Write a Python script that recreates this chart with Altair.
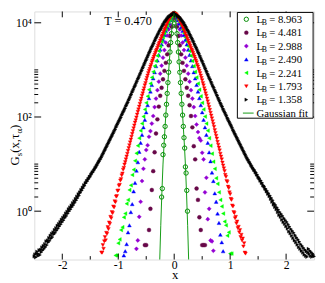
import numpy as np
import pandas as pd
import altair as alt

# ---------------- data ----------------
SERIES = ["8.963", "4.481", "2.988", "2.490", "2.241", "1.793", "1.358"]
COLORS = ["#008b00", "#670748", "#9400d3", "#0000ff", "#00ff00", "#ff0000", "#000000"]
SHAPES = ["circle", "circle", "diamond", "triangle-up", "triangle-left", "triangle-down", "triangle-right"]
FILLED = [False, True, True, True, True, True, True]
SIZES = [20, 16, 18, 15, 15, 14, 12]

# histogram bins: centre of first bin and bin width of each series
X0 = [-0.2375, -0.525, -0.675, -0.9, -1.05, -1.3, -2.5]
DX = [0.0125, 0.025, 0.025, 0.025, 0.025, 0.0125, 0.0125]

# log10 Gs(x, tau_alpha), bin by bin (None = empty bin)
LOG_8963 = [None, 0.30, 0.48, 1.20, 1.40, 1.58, 1.80, 2.04, 2.27, 2.50, 2.73, 2.95, 3.17, 3.38, 3.58, 3.77, 3.93, 4.06, 4.15, 4.20,
            4.15, 4.06, 3.93, 3.77, 3.58, 3.38, 3.17, 2.95, 2.73, 2.50, 2.27, 2.04, 1.80, 1.56, 1.34, 0.94, 0.81, 0.44, 0.00]
LOG_4481 = [-0.72, -0.72, None, -0.40, 0.05, 0.45, 0.85, 1.25, 1.65, 1.95, 2.22, 2.45, 2.62, 2.80, 2.98, 3.15, 3.33, 3.52, 3.72, 3.92, 4.10, 4.20,
            4.10, 3.92, 3.72, 3.52, 3.33, 3.15, 2.98, 2.80, 2.62, 2.45, 2.25, 2.02, 1.78, 1.38, 1.10, 0.48, 0.24, -0.13, -0.40, -0.72, -0.72, -0.72]
LOG_2988 = [-0.80, -0.62, -0.12, 0.20, 0.64, 0.90, 1.10, 1.30, 1.40, 1.58, 1.70, 1.86, 2.02, 2.21, 2.39, 2.57, 2.75, 2.92, 3.09, 3.26, 3.42, 3.58, 3.73, 3.86, 3.97, 4.07, 4.15, 4.20,
            4.15, 4.07, 3.97, 3.86, 3.73, 3.58, 3.42, 3.26, 3.09, 2.92, 2.75, 2.57, 2.39, 2.21, 2.02, 1.84, 1.68, 1.55, 1.50, 1.24, 1.10, 0.40, 0.71, -0.17, 0.05, -0.62, -0.64, -0.84]
LOG_2490 = [-0.94, -0.85, -0.70, -0.45, -0.30, -0.02, 0.15, 0.42, 0.60, 0.86, 1.04, 1.26, 1.45, 1.62, 1.78, 1.94, 2.10, 2.25, 2.40, 2.54, 2.68, 2.82, 2.95, 3.08, 3.20, 3.32, 3.43, 3.54, 3.64, 3.74, 3.83, 3.91, 3.99, 4.06, 4.12, 4.17, 4.20,
            4.17, 4.12, 4.06, 3.99, 3.91, 3.83, 3.74, 3.64, 3.54, 3.43, 3.32, 3.20, 3.08, 2.95, 2.82, 2.68, 2.54, 2.40, 2.25, 2.10, 1.94, 1.78, 1.62, 1.45, 1.25, 1.06, 0.82, 0.64, 0.38, 0.20, -0.05, -0.25, -0.50, -0.66, -0.85, None]
LOG_2241 = [-0.94, -0.94, -0.68, -0.60, -0.40, -0.34, -0.13, -0.05, 0.16, 0.24, 0.45, 0.55, 0.77, 0.88, 1.07, 1.23, 1.39, 1.55, 1.71, 1.86, 2.01, 2.16, 2.30, 2.44, 2.58, 2.71, 2.84, 2.96, 3.08, 3.19, 3.30, 3.40, 3.50, 3.60, 3.69, 3.78, 3.86, 3.94, 4.01, 4.07, 4.13, 4.17, 4.20,
            4.17, 4.13, 4.07, 4.01, 3.94, 3.86, 3.78, 3.69, 3.60, 3.50, 3.40, 3.30, 3.19, 3.08, 2.96, 2.84, 2.71, 2.58, 2.44, 2.30, 2.16, 2.01, 1.86, 1.71, 1.55, 1.39, 1.22, 1.05, 0.90, 0.70, 0.58, 0.40, 0.24, 0.10, -0.05, -0.22, -0.30, -0.52, -0.45, -0.90, -0.90, None]
LOG_1793 = [-0.88, -0.88, -0.72, -0.80, -0.64, -0.55, -0.62, -0.46, -0.48, -0.34, -0.38, -0.24, -0.27, -0.12, -0.15, -0.02, -0.04,
            0.10, 0.08, 0.21, 0.19, 0.31, 0.32, 0.43, 0.44, 0.54, 0.56, 0.65, 0.68, 0.76, 0.80, 0.88, 0.92,
            0.99, 1.04, 1.10, 1.16, 1.22, 1.28, 1.34, 1.40, 1.46, 1.52, 1.58, 1.64, 1.70, 1.76, 1.82, 1.88,
            1.93, 1.99, 2.05, 2.11, 2.16, 2.22, 2.28, 2.34, 2.39, 2.45, 2.50, 2.56, 2.61, 2.67, 2.72, 2.78,
            2.83, 2.88, 2.93, 2.98, 3.02, 3.07, 3.11, 3.16, 3.20, 3.24, 3.28, 3.32, 3.36, 3.40, 3.43, 3.47,
            3.51, 3.55, 3.58, 3.62, 3.66, 3.70, 3.73, 3.77, 3.81, 3.85, 3.88, 3.92, 3.95, 3.99, 4.02, 4.05,
            4.08, 4.10, 4.13, 4.15, 4.17, 4.18, 4.19, 4.20,
            4.19, 4.18, 4.17, 4.15, 4.13, 4.10, 4.08, 4.05, 4.02, 3.99, 3.95, 3.92, 3.88, 3.85, 3.81, 3.77,
            3.73, 3.70, 3.66, 3.62, 3.58, 3.55, 3.51, 3.47, 3.43, 3.40, 3.36, 3.32, 3.28, 3.24, 3.20, 3.16,
            3.11, 3.07, 3.02, 2.98, 2.93, 2.88, 2.83, 2.78, 2.72, 2.67, 2.61, 2.56, 2.50, 2.45, 2.39, 2.33,
            2.27, 2.21, 2.15, 2.09, 2.03, 1.97, 1.91, 1.85, 1.79, 1.72, 1.66, 1.60, 1.54, 1.47, 1.41, 1.35,
            1.29, 1.22, 1.16, 1.10, 1.03, 0.97, 0.91, 0.85, 0.77, 0.73, 0.64, 0.62, 0.52, 0.49, 0.40, 0.36,
            0.26, 0.24, 0.12, 0.10, -0.02, -0.04, -0.15, -0.12, -0.26, -0.22, -0.36, -0.33, -0.45, -0.40, -0.55, -0.50,
            -0.62, -0.58, -0.75, -0.68, -0.88, -0.90, None, None]
LOG_1358 = [-0.96, -0.92, -0.98, -0.90, -0.86, -0.95, -0.91, -0.83, -0.93, -0.82, -0.87, -0.77, -0.83, -0.74, -0.80, -0.70,
            -0.76, -0.64, -0.72, -0.62, -0.66, -0.57, -0.63, -0.52, -0.58, -0.48, -0.55, -0.45, -0.49, -0.40, -0.46, -0.36,
            -0.41, -0.31, -0.37, -0.27, -0.32, -0.23, -0.28, -0.18, -0.23, -0.14, -0.19, -0.10, -0.14, -0.05, -0.10, -0.01,
            -0.05, 0.04, 0.00, 0.08, 0.04, 0.12, 0.09, 0.17, 0.13, 0.21, 0.18, 0.26, 0.23, 0.31, 0.28, 0.36,
            0.33, 0.40, 0.39, 0.45, 0.44, 0.50, 0.49, 0.55, 0.54, 0.59, 0.60, 0.64, 0.64, 0.68, 0.69, 0.73,
            0.73, 0.77, 0.79, 0.82, 0.83, 0.86, 0.88, 0.91, 0.93,
            0.96, 0.98, 1.01, 1.04, 1.06, 1.09, 1.11, 1.14, 1.17, 1.20, 1.23, 1.26, 1.29, 1.32, 1.35, 1.38,
            1.41, 1.44, 1.47, 1.50, 1.53, 1.56, 1.59, 1.62, 1.65, 1.68, 1.71, 1.74, 1.78, 1.81, 1.84, 1.87,
            1.90, 1.93, 1.96, 1.99, 2.03, 2.06, 2.09, 2.12, 2.15, 2.18, 2.22, 2.25, 2.28, 2.31, 2.35, 2.38,
            2.41, 2.45, 2.48, 2.52, 2.55, 2.58, 2.62, 2.65, 2.68, 2.72, 2.75, 2.79, 2.82, 2.85, 2.89, 2.92,
            2.96, 2.99, 3.03, 3.06, 3.10, 3.13, 3.17, 3.20, 3.23, 3.27, 3.30, 3.34, 3.37, 3.40, 3.44, 3.47,
            3.50, 3.53, 3.56, 3.60, 3.63, 3.66, 3.69, 3.72, 3.75, 3.78, 3.81, 3.84, 3.86, 3.89, 3.92, 3.95,
            3.97, 4.00, 4.02, 4.04, 4.06, 4.08, 4.10, 4.12, 4.13, 4.14, 4.15, 4.16, 4.17, 4.18, 4.19, 4.20,
            4.19, 4.18, 4.17, 4.16, 4.15, 4.14, 4.13, 4.12, 4.10, 4.08, 4.06, 4.04, 4.02, 4.00, 3.97, 3.95,
            3.92, 3.89, 3.86, 3.84, 3.81, 3.78, 3.75, 3.72, 3.69, 3.66, 3.63, 3.60, 3.56, 3.53, 3.50, 3.47,
            3.44, 3.40, 3.37, 3.34, 3.30, 3.27, 3.23, 3.20, 3.17, 3.13, 3.10, 3.06, 3.03, 2.99, 2.96, 2.92,
            2.89, 2.85, 2.82, 2.79, 2.75, 2.72, 2.68, 2.65, 2.62, 2.58, 2.55, 2.52, 2.48, 2.45, 2.41, 2.38,
            2.35, 2.31, 2.28, 2.25, 2.22, 2.18, 2.15, 2.12, 2.09, 2.06, 2.03, 1.99, 1.96, 1.93, 1.90, 1.87,
            1.84, 1.81, 1.78, 1.74, 1.71, 1.68, 1.65, 1.62, 1.59, 1.56, 1.53, 1.50, 1.47, 1.44, 1.41, 1.38,
            1.35, 1.32, 1.29, 1.26, 1.23, 1.20, 1.17, 1.14, 1.11, 1.09, 1.06, 1.04, 1.01, 0.98, 0.96, 0.93,
            0.91, 0.88, 0.87, 0.83, 0.82, 0.78, 0.77, 0.73, 0.71, 0.69, 0.65, 0.65, 0.60, 0.60, 0.55, 0.54,
            0.52, 0.48, 0.47, 0.42, 0.43, 0.37, 0.38, 0.32, 0.33, 0.26, 0.28, 0.20, 0.23, 0.14, 0.17, 0.09,
            0.13, 0.04, 0.08, -0.02, 0.03, -0.08, -0.02, -0.12, -0.06, -0.18, -0.10, -0.23, -0.15, -0.27, -0.19, -0.32,
            -0.23, -0.37, -0.28, -0.43, -0.33, -0.47, -0.38, -0.52, -0.42, -0.57, -0.46, -0.62, -0.51, -0.66, -0.56, -0.71,
            -0.60, -0.76, -0.65, -0.80, -0.70, -0.84, -0.74, -0.88, -0.78, -0.92, -0.82, -0.95, -0.85, -0.97, -0.88, -0.80,
            -0.91, -0.84, -0.95, -0.87, -0.97, -0.90, -0.93, -0.96]
LOG_G = [LOG_8963, LOG_4481, LOG_2988, LOG_2490, LOG_2241, LOG_1793, LOG_1358]

# Gaussian fit curve (log10 values)
FIT_X0, FIT_DX = -0.26, 0.02
LOG_FIT = [-1.10, -0.30, 0.40, 1.00, 1.45, 1.85, 2.22, 2.60, 2.95, 3.30, 3.62, 3.90, 4.10, 4.20,
           4.10, 3.90, 3.62, 3.30, 2.95, 2.60, 2.22, 1.85, 1.45, 1.00, 0.40, -0.30, -1.10]
FIT_COLOR = "#119a11"
FIT_LABEL = "Gaussian fit"
TEMP_TEXT = "T = 0.470"

X_MAJOR = [-2, -1, 0, 1, 2]
X_MINOR = [-1.5, -0.5, 0.5, 1.5]
Y_MAJOR = [1, 100, 10000]
Y_MINOR = [2, 3, 4, 5, 6, 7, 8, 9, 10, 200, 300, 400, 500, 600, 700, 800, 900, 1000]

# ---------------- layout ----------------
W, H = 287, 254.5
FONT = "Liberation Serif"
OX, OY = 35, 8  # plot origin on the page

rows = []
for k, vals in enumerate(LOG_G):
    for i, v in enumerate(vals):
        if v is None:
            continue
        rows.append(dict(x=round(X0[k] + i * DX[k], 4), y=10 ** v, k=k,
                         shape=SHAPES[k],
                         fill=COLORS[k] if FILLED[k] else "transparent",
                         stroke=COLORS[k], size=SIZES[k],
                         sw=0.4 if FILLED[k] else 1.0))
pts = pd.DataFrame(rows)
fitdf = pd.DataFrame({"x": [round(FIT_X0 + i * FIT_DX, 4) for i in range(len(LOG_FIT))],
                      "y": [10 ** v for v in LOG_FIT]})

XS = alt.Scale(domain=[-2.5, 2.5], nice=False, zero=False)
YS = alt.Scale(type="log", domain=[0.094, 17400], nice=False)
XA = alt.Axis(values=X_MAJOR, labelExpr="'' + datum.value", ticks=False, domain=False, grid=False,
              labelPadding=0, labelFont=FONT, labelFontSize=12, labelColor="black", title=None,
              labelFlush=False, labelOverlap=False)
YA = alt.Axis(values=Y_MAJOR,
              labelExpr="datum.value == 1 ? '10\u2070' : (datum.value == 100 ? '10\u00b2' : '10\u2074')",
              ticks=False, domain=False, grid=False, labelPadding=3, labelFont=FONT, labelFontSize=12,
              labelColor="black", title=None, labelFlush=False, labelOverlap=False)

points = alt.Chart(pts).mark_point(opacity=1, filled=True).encode(
    x=alt.X("x:Q", scale=XS, axis=XA),
    y=alt.Y("y:Q", scale=YS, axis=YA),
    shape=alt.Shape("shape:N", scale=None),
    fill=alt.Fill("fill:N", scale=None),
    stroke=alt.Stroke("stroke:N", scale=None),
    size=alt.Size("size:Q", scale=None),
    strokeWidth=alt.StrokeWidth("sw:Q", scale=None),
)

fit = alt.Chart(fitdf).mark_line(color=FIT_COLOR, strokeWidth=1, clip=True).encode(
    x=alt.X("x:Q", scale=XS, axis=XA),
    y=alt.Y("y:Q", scale=YS, axis=YA),
)

# inward ticks on all four sides
xt = []
for t in X_MAJOR:
    xt += [dict(x=t, p1=H, p2=H - 6), dict(x=t, p1=0, p2=6)]
for t in X_MINOR:
    xt += [dict(x=t, p1=H, p2=H - 3.5), dict(x=t, p1=0, p2=3.5)]
xticks = alt.Chart(pd.DataFrame(xt)).mark_rule(color="black", strokeWidth=1).encode(
    x=alt.X("x:Q", scale=XS, axis=XA),
    y=alt.Y("p1:Q", scale=None, axis=None),
    y2="p2:Q",
)
yt = []
for t in Y_MAJOR:
    yt += [dict(y=t, p1=0, p2=7), dict(y=t, p1=W, p2=W - 7)]
for t in Y_MINOR:
    yt += [dict(y=t, p1=0, p2=4), dict(y=t, p1=W, p2=W - 4)]
yticks = alt.Chart(pd.DataFrame(yt)).mark_rule(color="black", strokeWidth=1).encode(
    y=alt.Y("y:Q", scale=YS, axis=YA),
    x=alt.X("p1:Q", scale=None, axis=None),
    x2="p2:Q",
)

# legend
ROW0, ROWD = 16.0, 13.75
one = pd.DataFrame({"a": [0]})
box = alt.Chart(one).mark_rect(fill="white", stroke="black", strokeWidth=1).encode(
    x=alt.value(243.3 - OX), x2=alt.value(321 - OX),
    y=alt.value(9 - OY), y2=alt.value(117.5 - OY),
)
leg = pd.DataFrame([dict(px=252.5 - OX, py=ROW0 + ROWD * i - OY, shape=SHAPES[i],
                         fill=COLORS[i] if FILLED[i] else "transparent", stroke=COLORS[i],
                         size=SIZES[i], sw=0.4 if FILLED[i] else 1.0) for i in range(len(SERIES))])
legpts = alt.Chart(leg).mark_point(opacity=1, filled=True).encode(
    x=alt.X("px:Q", scale=None, axis=None),
    y=alt.Y("py:Q", scale=None, axis=None),
    shape=alt.Shape("shape:N", scale=None),
    fill=alt.Fill("fill:N", scale=None),
    stroke=alt.Stroke("stroke:N", scale=None),
    size=alt.Size("size:Q", scale=None),
    strokeWidth=alt.StrokeWidth("sw:Q", scale=None),
)
yfit = ROW0 + ROWD * len(SERIES) - OY
legline = alt.Chart(one).mark_rule(color=FIT_COLOR, strokeWidth=1).encode(
    x=alt.value(249 - OX), x2=alt.value(260 - OX), y=alt.value(yfit),
)

texts = []
for i, name in enumerate(SERIES):
    r = ROW0 + ROWD * i - OY
    texts += [dict(px=263 - OX, py=r + 3.8, text="L", fs=11, ang=0),
              dict(px=268.3 - OX, py=r + 5.8, text="B", fs=8, ang=0),
              dict(px=276 - OX, py=r + 3.8, text="= " + name, fs=11, ang=0)]
texts.append(dict(px=263 - OX, py=yfit + 3.8, text=FIT_LABEL, fs=11, ang=0))
texts.append(dict(px=106.7 - OX, py=21.5 - OY, text=TEMP_TEXT, fs=12.5, ang=0))
texts.append(dict(px=176.3 - OX, py=282.3 - OY, text="x", fs=13, ang=0))
# rotated y title: G_s(x, tau_alpha)
TX, TXS = 19.5, 22.5
texts += [dict(px=TX - OX, py=166 - OY, text="G", fs=13, ang=270),
          dict(px=TXS - OX, py=156.6 - OY, text="s", fs=9, ang=270),
          dict(px=TX - OX, py=153 - OY, text="(x,\u03c4", fs=13, ang=270),
          dict(px=TXS - OX, py=133.2 - OY, text="\u03b1", fs=9, ang=270),
          dict(px=TX - OX, py=128.5 - OY, text=")", fs=13, ang=270)]
txt = alt.Chart(pd.DataFrame(texts)).mark_text(align="left", baseline="alphabetic", font=FONT, color="black").encode(
    x=alt.X("px:Q", scale=None, axis=None),
    y=alt.Y("py:Q", scale=None, axis=None),
    text="text:N",
    size=alt.Size("fs:Q", scale=None),
    angle=alt.Angle("ang:Q", scale=None),
)

chart = alt.layer(points, fit, xticks, yticks, box, legpts, legline, txt).properties(
    width=W, height=H,
    autosize=alt.AutoSizeParams(type="none"),
    padding={"left": 27, "top": 0, "right": 3, "bottom": 20},
).configure_view(stroke="black", strokeWidth=1).configure(font=FONT)

chart.save("out.html", embed_options={"renderer": "svg", "actions": False})
